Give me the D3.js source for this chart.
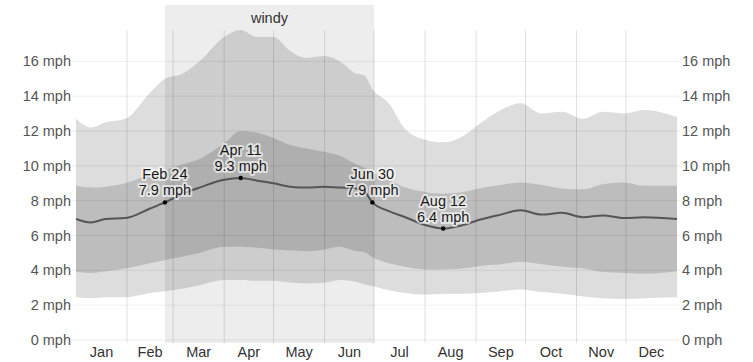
<!DOCTYPE html>
<meta charset="utf-8">
<style>
  body { margin: 0; background: #fff; }
  text { font-family: "Liberation Sans", Arial, sans-serif; }
</style>

<!-- Load d3.js -->
<script src="https://d3js.org/d3.v7.js"></script>

<svg id="my_dataviz" width="753" height="362"></svg>

<script>
    // day of year for each sample
    var days = [0, 9, 18, 30, 45, 54, 65, 75, 90, 100, 110, 120, 130, 140, 151, 160, 170, 175, 180,
        190, 200, 212, 223, 235, 245, 258, 270, 283, 295, 308, 320, 333, 345, 365];

    // wind speed (mph)
    var p90 = [12.7, 12.2, 12.5, 12.7, 14.2, 15.0, 15.3, 16.0, 17.4, 17.8, 17.4, 17.4, 16.6, 16.2, 16.3, 16.0, 15.3, 15.2, 14.4,
        13.6, 12.1, 11.5, 11.35, 11.7, 12.4, 13.2, 13.6, 13.0, 13.1, 12.7, 13.1, 13.0, 13.2, 12.8];
    var p75 = [8.85, 8.75, 8.8, 9.0, 9.5, 9.75, 10.1, 10.4, 11.3, 12.0, 11.9, 11.6, 11.2, 11.0, 10.8, 10.6, 10.1, 9.9, 9.6,
        9.2, 8.75, 8.5, 8.4, 8.5, 8.7, 8.9, 9.05, 8.9, 8.7, 8.65, 8.95, 9.05, 8.85, 8.85];
    var avg = [6.95, 6.75, 6.95, 7.0, 7.55, 7.9, 8.4, 8.75, 9.2, 9.3, 9.15, 9.0, 8.8, 8.75, 8.8, 8.75, 8.7, 8.55, 7.9,
        7.4, 7.05, 6.6, 6.4, 6.6, 6.9, 7.2, 7.45, 7.2, 7.3, 7.05, 7.15, 7.0, 7.05, 6.95];
    var p25 = [3.9, 3.85, 3.95, 4.1, 4.4, 4.6, 4.8, 5.0, 5.35, 5.35, 5.3, 5.2, 5.15, 5.1, 5.2, 5.35, 5.1, 5.05, 4.75,
        4.4, 4.2, 4.05, 4.05, 4.1, 4.25, 4.35, 4.5, 4.35, 4.2, 4.1, 3.9, 3.85, 3.8, 3.95];
    var p10 = [2.45, 2.4, 2.45, 2.45, 2.7, 2.8, 2.95, 3.15, 3.45, 3.45, 3.4, 3.4, 3.3, 3.25, 3.3, 3.45, 3.35, 3.2, 3.1,
        2.85, 2.7, 2.6, 2.65, 2.65, 2.7, 2.8, 2.9, 2.75, 2.65, 2.5, 2.4, 2.35, 2.4, 2.45];

    var months = ["Jan", "Feb", "Mar", "Apr", "May", "Jun", "Jul", "Aug", "Sep", "Oct", "Nov", "Dec"];
    var monthStarts = [0, 31, 59, 90, 120, 151, 181, 212, 243, 273, 304, 334, 365];
    var yTicks = [0, 2, 4, 6, 8, 10, 12, 14, 16];

    // windy season (Feb 24 - Jun 30)
    var windyStart = 54, windyEnd = 181;

    // annotations
    var noteDays = [54, 100, 180, 223];
    var noteLabels = ["Feb 24", "Apr 11", "Jun 30", "Aug 12"];
    var noteValues = [7.9, 9.3, 7.9, 6.4];

    var svg = d3.select("svg")
    var width = +svg.attr("width"),
        height = +svg.attr("height");

    var x = d3.scaleLinear().domain([0, 365]).range([76, 677]);
    var y = d3.scaleLinear().domain([0, 17.8]).range([340, 30]);

    var data = days.map((d, i) => ({ day: d, p10: p10[i], p25: p25[i], avg: avg[i], p75: p75[i], p90: p90[i] }));

    // bands
    svg.append("path")
        .datum(data)
        .attr("fill", "#dddddd")
        .attr("d", d3.area().curve(d3.curveMonotoneX)
            .x(d => x(d.day)).y0(d => y(d.p10)).y1(d => y(d.p90)));

    svg.append("path")
        .datum(data)
        .attr("fill", "#bdbdbd")
        .attr("d", d3.area().curve(d3.curveMonotoneX)
            .x(d => x(d.day)).y0(d => y(d.p25)).y1(d => y(d.p75)));

    // windy shading
    svg.append("rect")
        .attr("x", x(windyStart))
        .attr("width", x(windyEnd) - x(windyStart))
        .attr("y", 5)
        .attr("height", 338)
        .attr("fill", "#000")
        .attr("fill-opacity", 0.07);

    svg.append("text")
        .attr("x", (x(windyStart) + x(windyEnd)) / 2)
        .attr("y", 23)
        .attr("text-anchor", "middle")
        .style("font-size", "14.5px")
        .style("fill", "#333")
        .text("windy");

    // grid
    svg.append("g")
        .selectAll("line")
        .data(yTicks)
        .enter().append("line")
        .attr("x1", 72).attr("x2", 680)
        .attr("y1", d => y(d)).attr("y2", d => y(d))
        .style("stroke", "#000")
        .style("stroke-opacity", 0.07);

    svg.append("g")
        .selectAll("line")
        .data(monthStarts.slice(1, 12))
        .enter().append("line")
        .attr("x1", d => x(d)).attr("x2", d => x(d))
        .attr("y1", 30).attr("y2", 343)
        .style("stroke", "#000")
        .style("stroke-opacity", 0.12);

    // mean line
    svg.append("path")
        .datum(data)
        .attr("fill", "none")
        .attr("stroke", "#555")
        .attr("stroke-width", 2)
        .attr("d", d3.line().curve(d3.curveMonotoneX)
            .x(d => x(d.day)).y(d => y(d.avg)));

    // y tick labels, both sides
    svg.append("g")
        .selectAll("text")
        .data(yTicks)
        .enter().append("text")
        .attr("x", 71)
        .attr("y", d => y(d) + 5)
        .attr("text-anchor", "end")
        .style("font-size", "14.5px")
        .style("fill", "#555")
        .text(d => d + " mph");

    svg.append("g")
        .selectAll("text")
        .data(yTicks)
        .enter().append("text")
        .attr("x", 682)
        .attr("y", d => y(d) + 5)
        .style("font-size", "14.5px")
        .style("fill", "#555")
        .text(d => d + " mph");

    // month labels
    svg.append("g")
        .selectAll("text")
        .data(months)
        .enter().append("text")
        .attr("x", (d, i) => x((monthStarts[i] + monthStarts[i + 1]) / 2))
        .attr("y", 357)
        .attr("text-anchor", "middle")
        .style("font-size", "14.5px")
        .style("fill", "#333")
        .text(d => d);

    // annotations
    var notes = svg.append("g")
        .selectAll("g")
        .data(noteDays)
        .enter().append("g")
        .attr("transform", (d, i) => "translate(" + x(d) + "," + y(noteValues[i]) + ")");

    notes.append("circle")
        .attr("r", 2.2)
        .attr("fill", "#000");

    [["label", -23], ["value", -7]].forEach(function (row) {
        notes.append("text")
            .attr("y", row[1])
            .attr("text-anchor", "middle")
            .style("font-size", "14.5px")
            .style("fill", "#1a1a1a")
            .style("stroke", "#fff")
            .style("stroke-opacity", 0.6)
            .style("stroke-width", 4)
            .style("stroke-linejoin", "round")
            .style("paint-order", "stroke")
            .text((d, i) => row[0] == "label" ? noteLabels[i] : noteValues[i] + " mph");
    });
</script>
